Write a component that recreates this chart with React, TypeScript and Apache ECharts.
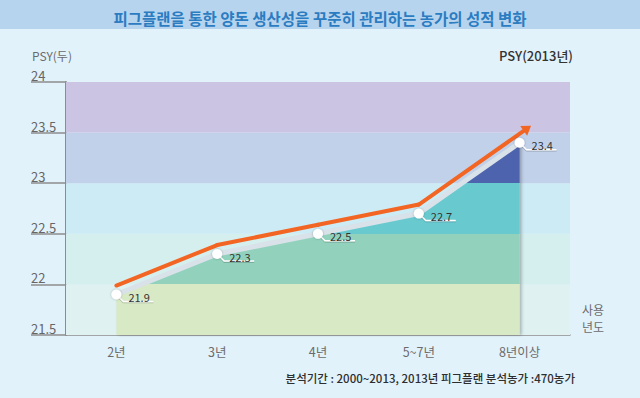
import React, { useEffect, useRef } from "react";
import * as echarts from "echarts";

const chartTitle = "피그플랜을 통한 양돈 생산성을 꾸준히 관리하는 농가의 성적 변화";
const categories = ["2년", "3년", "4년", "5~7년", "8년이상"];
const psyValues = [21.9, 22.3, 22.5, 22.7, 23.4];
const bandEdges = [21.5, 22, 22.5, 23, 23.5, 24];
const yAxisName = "PSY(두)";
const seriesName = "PSY(2013년)";
const xAxisName = "사용\n년도";
const footnote = "분석기간 : 2000~2013, 2013년 피그플랜 분석농가 :470농가";

const FONT = "'Noto Sans CJK KR', 'Noto Sans', sans-serif";
const bandBg = ["#dff1f1", "#d5eeee", "#cdebf4", "#c1d1ea", "#cbc5e3"];
const bandFill = ["#d7e9c5", "#92d2bd", "#68c9cf", "#4d63ad", "#4d63ad"];
const ORANGE = "#f26522";

export default function App() {
  const ref = useRef<HTMLDivElement>(null);
  useEffect(() => {
    if (!ref.current) return;
    const chart = echarts.init(ref.current, undefined, { renderer: "svg" });
    const pointData = psyValues.map((v, i) => [i, v]);
    const last = psyValues.length - 1;
    const bands = bandEdges.slice(0, -1).map((lo, i) => [
      { yAxis: lo, itemStyle: { color: bandBg[i] } },
      { yAxis: bandEdges[i + 1] },
    ]);
    const option: any = {
      animation: false,
      backgroundColor: "#e2f2fb",
      textStyle: { fontFamily: FONT },
      title: {
        text: chartTitle,
        left: "center",
        top: 5,
        textStyle: { color: "#2b7cc1", fontSize: 15.5, fontWeight: "bold", fontFamily: FONT },
      },
      grid: { left: 66, right: 70, top: 82, bottom: 63, containLabel: false },
      xAxis: {
        type: "category",
        data: categories,
        boundaryGap: true,
        name: xAxisName,
        nameLocation: "end",
        nameGap: 12,
        nameTextStyle: {
          color: "#6b6b6b",
          fontSize: 12,
          lineHeight: 17,
          align: "left",
          verticalAlign: "bottom",
          fontFamily: FONT,
        },
        axisLine: { show: true, lineStyle: { color: "#8c8c8c", width: 1.5 } },
        axisTick: { show: false },
        axisLabel: { color: "#6b6b6b", fontSize: 12.5, margin: 10, fontFamily: FONT },
        splitLine: { show: false },
      },
      yAxis: {
        type: "value",
        min: 21.5,
        max: 24,
        interval: 0.5,
        axisLine: { show: true, lineStyle: { color: "#8c8c8c", width: 2 } },
        axisTick: { show: true, length: 35, lineStyle: { color: "#8c8c8c", width: 1.5 } },
        axisLabel: {
          color: "#666666",
          fontSize: 13,
          align: "left",
          verticalAlign: "bottom",
          margin: 35,
          fontFamily: FONT,
        },
        splitLine: { show: false },
      },
      visualMap: {
        type: "piecewise",
        show: false,
        seriesIndex: 1,
        dimension: 1,
        pieces: bandEdges.slice(0, -1).map((lo, i) => ({
          gte: lo,
          lt: bandEdges[i + 1],
          color: bandFill[i],
        })),
      },
      graphic: [
        {
          type: "rect",
          shape: { x: 0, y: 0, width: 640, height: 29 },
          style: { fill: "#b7d4ef" },
          z: -1,
        },
        {
          type: "text",
          x: 32,
          y: 55,
          style: { text: yAxisName, fill: "#6b6b6b", font: `12px ${FONT}`, verticalAlign: "middle" },
        },
        {
          type: "text",
          x: 573,
          y: 55,
          style: {
            text: seriesName,
            fill: "#333333",
            font: `500 13px ${FONT}`,
            align: "right",
            verticalAlign: "middle",
          },
        },
        {
          type: "text",
          x: 575,
          y: 378,
          style: {
            text: footnote,
            fill: "#2e2e2e",
            font: `500 11.5px ${FONT}`,
            align: "right",
            verticalAlign: "middle",
          },
        },
      ],
      series: [
        {
          type: "line",
          data: psyValues,
          silent: true,
          symbol: "none",
          lineStyle: { width: 0, opacity: 0 },
          z: 1,
          markArea: { silent: true, data: bands },
        },
        {
          type: "line",
          data: psyValues,
          silent: true,
          symbol: "none",
          showSymbol: false,
          z: 2,
          lineStyle: { color: "#d9e1e9", width: 5 },
          areaStyle: {
            opacity: 1,
            shadowColor: "rgba(0,0,0,0.25)",
            shadowBlur: 3,
            shadowOffsetX: 2,
          },
        },
        {
          type: "custom",
          name: seriesName,
          data: pointData,
          z: 4,
          silent: true,
          renderItem: (params: any, api: any) => {
            const i = params.dataIndexInside;
            const off = -9;
            const p = api.coord([api.value(0), api.value(1)]);
            const cur = [p[0], p[1] + off];
            const children: any[] = [];
            if (i > 0) {
              const q = api.coord([api.value(0, i - 1), api.value(1, i - 1)]);
              const prev = [q[0], q[1] + off];
              if (i === last) {
                const dx = cur[0] - prev[0];
                const dy = cur[1] - prev[1];
                const len = Math.hypot(dx, dy);
                const ux = dx / len;
                const uy = dy / len;
                const end = [cur[0] + ux * 5, cur[1] + uy * 5];
                const tip = [end[0] + ux * 9, end[1] + uy * 9];
                const nx = -uy;
                const ny = ux;
                children.push({
                  type: "line",
                  shape: { x1: prev[0], y1: prev[1], x2: end[0], y2: end[1] },
                  style: { stroke: ORANGE, lineWidth: 4, lineCap: "round" },
                });
                children.push({
                  type: "polygon",
                  shape: {
                    points: [
                      tip,
                      [end[0] + nx * 6, end[1] + ny * 6],
                      [end[0] - nx * 6, end[1] - ny * 6],
                    ],
                  },
                  style: { fill: ORANGE },
                });
              } else {
                children.push({
                  type: "line",
                  shape: { x1: prev[0], y1: prev[1], x2: cur[0], y2: cur[1] },
                  style: { stroke: ORANGE, lineWidth: 4, lineCap: "round" },
                });
              }
            }
            return { type: "group", children };
          },
        },
        {
          type: "custom",
          data: pointData,
          z: 5,
          silent: true,
          renderItem: (params: any, api: any) => {
            const v = api.value(1);
            const p = api.coord([api.value(0), v]);
            const x = p[0];
            const y = p[1];
            return {
              type: "group",
              children: [
                {
                  type: "polyline",
                  shape: { points: [[x, y], [x + 7, y + 7], [x + 37, y + 7]] },
                  style: {
                    stroke: "#ffffff",
                    lineWidth: 1.5,
                    fill: null,
                    shadowColor: "rgba(0,0,0,0.45)",
                    shadowBlur: 1,
                    shadowOffsetY: 0.5,
                  },
                },
                {
                  type: "circle",
                  shape: { cx: x, cy: y, r: 5 },
                  style: { fill: "#ffffff", shadowColor: "rgba(0,0,0,0.3)", shadowBlur: 2 },
                },
                {
                  type: "text",
                  x: x + 12,
                  y: y + 2.5,
                  style: {
                    text: String(v),
                    fill: "#333333",
                    font: `11px ${FONT}`,
                    align: "left",
                    verticalAlign: "middle",
                  },
                },
              ],
            };
          },
        },
      ],
    };
    chart.setOption(option);
    return () => chart.dispose();
  }, []);
  return (
    <div
      ref={ref}
      style={{ position: "fixed", left: 0, top: 0, width: 640, height: 398 }}
    />
  );
}
